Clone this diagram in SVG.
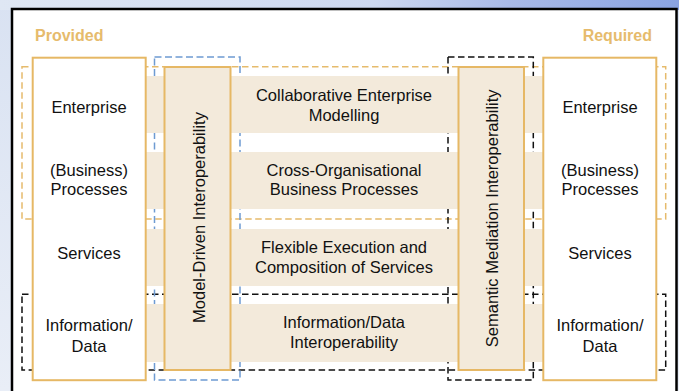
<svg xmlns="http://www.w3.org/2000/svg" width="679" height="391" viewBox="0 0 679 391">
  <defs>
    <linearGradient id="bgTop" x1="0" y1="0" x2="1" y2="0">
      <stop offset="0" stop-color="#dfe7f4"/>
      <stop offset="0.55" stop-color="#cdd8f0"/>
      <stop offset="0.75" stop-color="#a9bae8"/>
      <stop offset="1" stop-color="#8aa3e2"/>
    </linearGradient>
    <linearGradient id="bgLeft" x1="0" y1="0" x2="0" y2="1">
      <stop offset="0" stop-color="#d9e2f2"/>
      <stop offset="1" stop-color="#e9eef7"/>
    </linearGradient>
  </defs>
  <style>
    .lbl { font-family: "Liberation Sans", Arial, sans-serif; font-size: 16.5px; fill: #111; text-anchor: middle; }
    .hdr { font-family: "Liberation Sans", Arial, sans-serif; font-size: 16px; font-weight: bold; fill: #e6bb6c; }
    .box { fill: #ffffff; stroke: #e6b865; stroke-width: 2; }
    .col { fill: #f3eadb; stroke: #e6b865; stroke-width: 2; }
    .band { fill: #f3eadb; stroke: none; }
    .dy { fill: none; stroke: #e6bb6c; stroke-width: 1.5; stroke-dasharray: 6.5 3.5; }
    .dk { fill: none; stroke: #111; stroke-width: 1.5; stroke-dasharray: 6.5 3.5; }
    .db { fill: none; stroke: #6e9bd2; stroke-width: 1.5; stroke-dasharray: 7 3.5; }
  </style>

  <!-- background slide -->
  <rect x="0" y="0" width="679" height="391" fill="url(#bgLeft)"/>
  <rect x="0" y="0" width="679" height="10" fill="url(#bgTop)"/>
  <rect x="12" y="9" width="664.5" height="400" fill="#ffffff" stroke="#000" stroke-width="2.5"/>

  <text class="hdr" x="35" y="41">Provided</text>
  <text class="hdr" x="652" y="41" text-anchor="end">Required</text>

  <!-- dashed grouping frames -->
  <g id="frames">
    <rect class="dy" x="22" y="66.7" width="643.7" height="152.3"/>
    <rect class="dk" x="22" y="294.3" width="643.7" height="75.7"/>
    <rect class="db" x="154.5" y="57" width="85.5" height="323"/>
    <rect class="dk" x="448" y="57" width="85.3" height="323"/>
  </g>

  <!-- horizontal bands -->
  <g id="band-enterprise">
    <rect class="band" x="146" y="76" width="397" height="57"/>
    <text class="lbl" x="344" y="100.5">Collaborative Enterprise</text>
    <text class="lbl" x="344" y="120.5">Modelling</text>
  </g>
  <g id="band-processes">
    <rect class="band" x="146" y="152" width="397" height="57"/>
    <text class="lbl" x="344" y="175.7">Cross-Organisational</text>
    <text class="lbl" x="344" y="195">Business Processes</text>
  </g>
  <g id="band-services">
    <rect class="band" x="146" y="229" width="397" height="57"/>
    <text class="lbl" x="344" y="252.7">Flexible Execution and</text>
    <text class="lbl" x="344" y="272.7">Composition of Services</text>
  </g>
  <g id="band-data">
    <rect class="band" x="146" y="304" width="397" height="58"/>
    <text class="lbl" x="344" y="328.3">Information/Data</text>
    <text class="lbl" x="344" y="348">Interoperability</text>
  </g>

  <!-- provided side -->
  <g id="provided">
    <rect class="box" x="32.7" y="57.7" width="113" height="322.5"/>
    <text class="lbl" x="89" y="113">Enterprise</text>
    <text class="lbl" x="89" y="175.7">(Business)</text>
    <text class="lbl" x="89" y="195">Processes</text>
    <text class="lbl" x="89" y="258.5">Services</text>
    <text class="lbl" x="89" y="331.3">Information/</text>
    <text class="lbl" x="89" y="351.7">Data</text>
  </g>

  <!-- required side -->
  <g id="required">
    <rect class="box" x="543.3" y="57.7" width="113" height="322.5"/>
    <text class="lbl" x="600" y="113">Enterprise</text>
    <text class="lbl" x="600" y="175.7">(Business)</text>
    <text class="lbl" x="600" y="195">Processes</text>
    <text class="lbl" x="600" y="259">Services</text>
    <text class="lbl" x="600" y="331.3">Information/</text>
    <text class="lbl" x="600" y="351.7">Data</text>
  </g>

  <!-- vertical columns -->
  <g id="model-driven">
    <rect class="col" x="164.5" y="67" width="66" height="303"/>
    <text class="lbl" transform="translate(204.5 217.5) rotate(-90)">Model-Driven Interoperability</text>
  </g>
  <g id="semantic-mediation">
    <rect class="col" x="458.5" y="67" width="65.5" height="303"/>
    <text class="lbl" transform="translate(497.5 218.3) rotate(-90)">Semantic Mediation Interoperability</text>
  </g>
</svg>
